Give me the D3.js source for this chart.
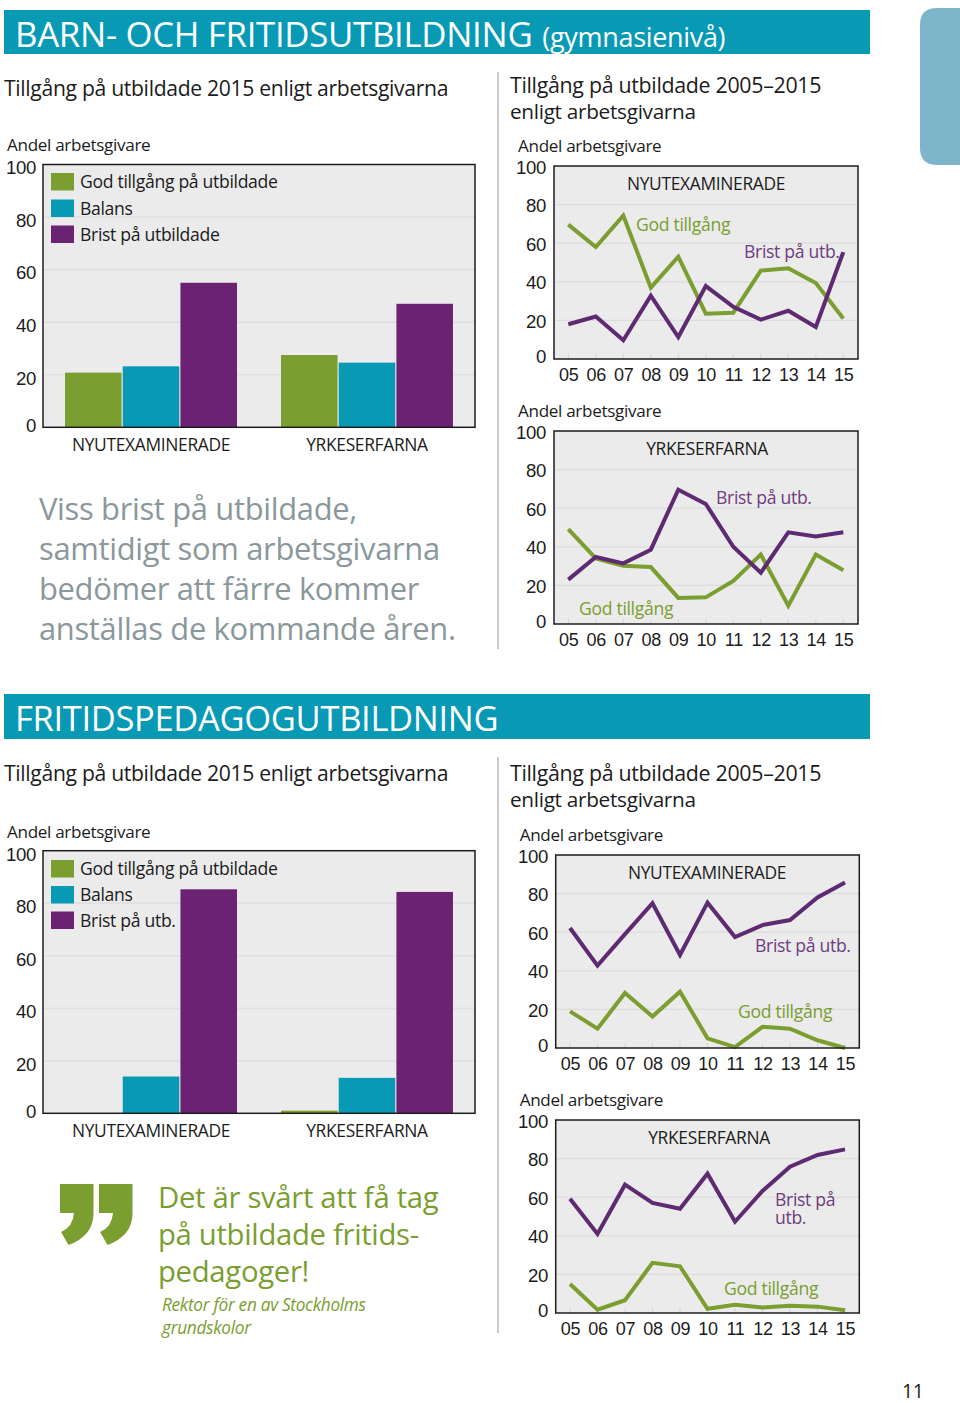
<!DOCTYPE html>
<html><head><meta charset="utf-8">
<script src="https://cdn.jsdelivr.net/npm/d3@7"></script>
<style>html,body{margin:0;background:#fff}svg{display:block;font-family:"Open Sans",sans-serif;letter-spacing:-.02em}</style>
</head><body><svg id="c" width="960" height="1403"></svg>
<script>
const years=["05","06","07","08","09","10","11","12","13","14","15"];
const groups=["NYUTEXAMINERADE","YRKESERFARNA"];
const seriesNames=["God tillgång","Balans","Brist"];
const yTicks=[0,20,40,60,80,100];

// Bar values: [God tillgång, Balans, Brist]
const barnNy=[20.8,23.2,55];
const barnYrk=[27.5,24.6,47];
const fritidNy=[0,14,85.3];
const fritidYrk=[1,13.5,84.3];

// Line values
const barnNyGod=[69.6,58,74.3,37,53,23.5,24,45.8,47,39.4,21];
const barnNyBrist=[18,22,9.7,32.8,11.4,37.8,27,20.4,25,16.6,55.4];
const barnYrkGod=[49.2,34,30.2,29.5,13.5,13.8,22.3,36,9.5,36,27.8];
const barnYrkBrist=[23,34.7,31.4,38.5,69.6,62.2,40,26.6,47.5,45.3,47.5];
const fritidNyGod=[19,10,28.5,16.3,29.2,5,0.5,11,10,4,0];
const fritidNyBrist=[62.2,42.7,59,75,48.2,75.3,57.5,63.7,66.3,78,85.7];
const fritidYrkGod=[15,1.7,6.6,26,24.2,2.2,4.3,2.8,3.8,3.3,1.4];
const fritidYrkBrist=[59.2,41,66.5,57,54,72.2,47.3,63.2,75.8,81.9,84.8];

const TEAL="#0899b5",GREEN="#7a9e30",PURPLE="#6c2273",LPURPLE="#5e2a72",LABELP="#6e3c80",INK="#1c1c1c";
const TS=18.6,LS=17.6,AS=17.1,GS=17.4;
const colors=d3.scaleOrdinal(seriesNames,[GREEN,TEAL,PURPLE]);
const svg=d3.select("#c");

function text(s,x,y,size,fill,opt={}){
  return svg.append("text").attr("x",x).attr("y",y).attr("font-size",size).attr("fill",fill||INK)
    .attr("text-anchor",opt.anchor||"start").attr("font-style",opt.italic?"italic":null).text(s);
}
function frame(L,R,T,B){
  const y=d3.scaleLinear([0,100],[B,T]);
  svg.append("rect").attr("x",L).attr("y",T).attr("width",R-L).attr("height",B-T).attr("fill","#ebebeb");
  svg.append("g").selectAll("line").data(yTicks.slice(1,-1)).join("line")
    .attr("x1",L).attr("x2",R).attr("y1",d=>y(d)).attr("y2",d=>y(d)).attr("stroke","#dcdcdc").attr("stroke-width",1.2);
  return y;
}
function border(L,R,T,B){
  svg.append("rect").attr("x",L).attr("y",T).attr("width",R-L).attr("height",B-T)
    .attr("fill","none").attr("stroke",INK).attr("stroke-width",1.5);
}
function yAxis(y,x,shift,zeroShift){
  const g=svg.append("g").attr("transform",`translate(${x},0)`)
    .call(d3.axisLeft(y).tickValues(yTicks).tickSize(0).tickPadding(0));
  g.select(".domain").remove();
  g.selectAll("text").attr("font-size",TS).attr("fill",INK).attr("font-family","inherit")
    .attr("dy",d=>d===0?zeroShift:shift);
}
function barChart(T,B,rows,legend,legendY,titleY,labelY){
  const L=43,R=475;
  const y=frame(L,R,T,B);
  const x0=d3.scaleBand(groups,[L,R]).paddingInner(.2037).paddingOuter(.102);
  const x1=d3.scaleBand(seriesNames,[0,x0.bandwidth()]).paddingInner(.02);
  const g=svg.append("g").selectAll("g").data(rows).join("g").attr("transform",(d,i)=>`translate(${x0(groups[i])},0)`);
  g.selectAll("rect").data(d=>d).join("rect")
    .attr("x",(d,i)=>x1(seriesNames[i])).attr("width",x1.bandwidth())
    .attr("y",d=>y(d)).attr("height",d=>B-y(d)).attr("fill",(d,i)=>colors(seriesNames[i]));
  legend.forEach((s,i)=>{
    svg.append("rect").attr("x",51).attr("y",legendY[i]).attr("width",23).attr("height",17.5).attr("fill",colors(seriesNames[i]));
    text(s,80,legendY[i]+15,LS);
  });
  border(L,R,T,B);
  yAxis(y,36,"0.5em","0.25em");
  text("Andel arbetsgivare",7,titleY,AS);
  groups.forEach(n=>text(n,x0(n)+x0.bandwidth()/2,labelY,GS,INK,{anchor:"middle"}));
}
function lineChart(L,R,x05,x15,T,title,titleX,god,brist,labels,axisX){
  const B=T+193;
  const y=frame(L,R,T,B);
  const x=d3.scalePoint(years,[x05,x15]);
  const ax=svg.append("g").attr("transform",`translate(0,${B})`)
    .call(d3.axisBottom(x).tickSize(0).tickPadding(0));
  ax.select(".domain").remove();
  ax.selectAll("text").attr("font-size",18).attr("fill",INK).attr("font-family","inherit").attr("dy","1.2em");
  svg.append("g").selectAll("line").data(years).join("line")
    .attr("x1",d=>x(d)).attr("x2",d=>x(d)).attr("y1",B).attr("y2",B-5).attr("stroke","#d4d4d4");
  const line=d3.line().x((d,i)=>x(years[i])).y(d=>y(d));
  [[god,GREEN],[brist,LPURPLE]].forEach(([v,c])=>svg.append("path").attr("d",line(v))
    .attr("fill","none").attr("stroke",c).attr("stroke-width",4).attr("stroke-linejoin","miter"));
  border(L,R,T,B);
  yAxis(y,axisX,"0.38em","0.18em");
  text("Andel arbetsgivare",L-36,T-14.5,AS);
  text(title,titleX,T+24,GS,INK,{anchor:"middle"});
  labels.forEach(l=>{
    const t=text("",l[1],l[2],17.6,l[3]);
    String(l[0]).split("\n").forEach((s,i)=>t.append("tspan").attr("x",l[1]).attr("dy",i?18:0).text(s));
  });
}
function header(y,h,main,size,sub){
  svg.append("rect").attr("x",4).attr("y",y).attr("width",866).attr("height",h).attr("fill",TEAL);
  const t=text(main,15,y+37,size,"#fff");
  if(sub) t.append("tspan").attr("font-size",27).attr("dx",10).text(sub);
}

// Side tab
svg.append("path").attr("fill","#7fb5cb").attr("d","M960,8H937Q920,8 920,25V148Q920,165 937,165H960Z");

header(10,44,"BARN- OCH FRITIDSUTBILDNING",34.8,"(gymnasienivå)");
header(694,45,"FRITIDSPEDAGOGUTBILDNING",34.5);

// Dividers
[[72,649],[757,1333]].forEach(([a,b])=>svg.append("line").attr("x1",498).attr("x2",498).attr("y1",a).attr("y2",b).attr("stroke","#a8a8a8").attr("stroke-width",1.2));

// Section headings
text("Tillgång på utbildade 2015 enligt arbetsgivarna",4,96,21.15);
text("Tillgång på utbildade 2005–2015",510,93,21.4);
text("enligt arbetsgivarna",510,119,20.8);
text("Tillgång på utbildade 2015 enligt arbetsgivarna",4,781,21.15);
text("Tillgång på utbildade 2005–2015",510,781,21.4);
text("enligt arbetsgivarna",510,807,20.8);

barChart(164.5,427.3,[barnNy,barnYrk],["God tillgång på utbildade","Balans","Brist på utbildade"],[173,199.5,225.5],151,451);
barChart(850.7,1113.3,[fritidNy,fritidYrk],["God tillgång på utbildade","Balans","Brist på utb."],[860,886,911.5],838,1137);

lineChart(554,858,568.3,843.3,166,"NYUTEXAMINERADE",706,barnNyGod,barnNyBrist,
  [["God tillgång",636,231,GREEN],["Brist på utb.",744,258,LABELP]],546);
lineChart(554,858,568.3,843.3,431,"YRKESERFARNA",707,barnYrkGod,barnYrkBrist,
  [["Brist på utb.",716,504,LABELP],["God tillgång",579,615,GREEN]],546);
lineChart(555.7,859.3,570,845,855,"NYUTEXAMINERADE",707,fritidNyGod,fritidNyBrist,
  [["Brist på utb.",755,952,LABELP],["God tillgång",738,1018,GREEN]],548);
lineChart(555.7,859.3,570,845,1120,"YRKESERFARNA",709,fritidYrkGod,fritidYrkBrist,
  [["Brist på\nutb.",775,1206,LABELP],["God tillgång",724,1295,GREEN]],548);

// Body text
["Viss brist på utbildade,","samtidigt som arbetsgivarna","bedömer att färre kommer","anställas de kommande åren."]
  .forEach((s,i)=>text(s,39,520+i*40,30.9,"#8a989b"));

// Quote
const mark="M0,0H33.5V30Q33,52 8.5,61L1,48Q13,43 14,29H0Z";
[60,99].forEach(x=>svg.append("path").attr("d",mark).attr("transform",`translate(${x},1184)`).attr("fill",GREEN));
["Det är svårt att få tag","på utbildade fritids-","pedagoger!"].forEach((s,i)=>text(s,158,1208+i*37,29.3,GREEN));
text("Rektor för en av Stockholms",162,1311,17.3,GREEN,{italic:true});
text("grundskolor",162,1334,17.3,GREEN,{italic:true});

text("11",902,1398,19.5);
</script></body></html>
